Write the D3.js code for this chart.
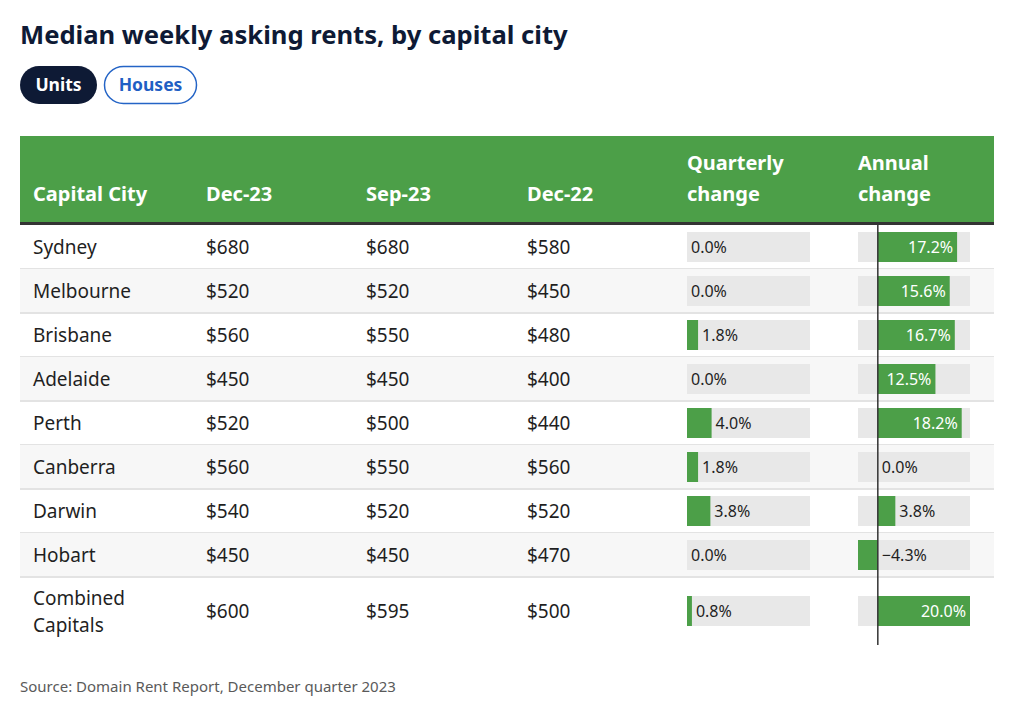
<!DOCTYPE html>
<html><head><meta charset="utf-8">
<script src="https://cdn.jsdelivr.net/npm/d3@7"></script>
<style>
html,body{margin:0;padding:0;background:#fff;}
svg{display:block;font-family:"Noto Sans",sans-serif;}
</style></head>
<body><svg id="c" width="1024" height="704"></svg>
<script>
const title = "Median weekly asking rents, by capital city";
const toggles = ["Units", "Houses"];
const headers = ["Capital City", "Dec-23", "Sep-23", "Dec-22", "Quarterly change", "Annual change"];
const cities = ["Sydney", "Melbourne", "Brisbane", "Adelaide", "Perth", "Canberra", "Darwin", "Hobart", "Combined Capitals"];
const dec23 = [680, 520, 560, 450, 520, 560, 540, 450, 600];
const sep23 = [680, 520, 550, 450, 500, 550, 520, 450, 595];
const dec22 = [580, 450, 480, 400, 440, 560, 520, 470, 500];
const quarterly = [0.0, 0.0, 1.8, 0.0, 4.0, 1.8, 3.8, 0.0, 0.8];
const annual = [17.2, 15.6, 16.7, 12.5, 18.2, 0.0, 3.8, -4.3, 20.0];
const source = "Source: Domain Rent Report, December quarter 2023";

const svg = d3.select("#c");
const green = "#4c9f48", navy = "#0e1a35", txt = "#1f1f1f";

svg.append("text").attr("x", 20).attr("y", 44).attr("font-size", 25.6).attr("font-weight", 700)
  .attr("fill", navy).text(title);

// toggles
const tg = [{x:20,w:77},{x:104.5,w:92}];
toggles.forEach((t,i)=>{
  const on = i===0;
  svg.append("rect").attr("x", tg[i].x).attr("y", on?66:66.5).attr("width", tg[i].w).attr("height", on?38:37)
    .attr("rx", 19).attr("fill", on?navy:"#fff").attr("stroke", on?"none":"#2464c6").attr("stroke-width",1.5);
  svg.append("text").attr("x", tg[i].x+tg[i].w/2).attr("y", 91).attr("text-anchor","middle")
    .attr("font-size", 17.5).attr("font-weight", 700).attr("fill", on?"#fff":"#1f5fc4").text(t);
});

// header
svg.append("rect").attr("x",20).attr("y",136).attr("width",974).attr("height",87).attr("fill",green);
svg.append("rect").attr("x",20).attr("y",222).attr("width",974).attr("height",3).attr("fill","#333");
const colX = [33, 206, 366, 527, 687, 858];
headers.forEach((h,i)=>{
  const words = h.split(" ");
  const lines = i>=4 ? [words[0], words[1]] : [h];
  const t = svg.append("text").attr("font-size",20).attr("font-weight",700).attr("fill","#fff");
  lines.forEach((l,j)=>{
    t.append("tspan").attr("x",colX[i]).attr("y", lines.length===1?201:170+31*j).text(l);
  });
});

// rows
const rowTop = 225, rowH = 44, lastH = 68;
const rowY = i => rowTop + i*rowH;
const rowHeight = i => i===cities.length-1 ? lastH : rowH;

const xQ = d3.scaleLinear().domain([0, d3.max(annual)]).range([687, 810]);
const xA = d3.scaleLinear().domain([d3.min(annual), d3.max(annual)]).range([858, 970]);

cities.forEach((c,i)=>{
  const y0 = rowY(i), h = rowHeight(i), cy = y0 + h/2;
  if (i%2===1) svg.append("rect").attr("x",20).attr("y",y0).attr("width",974).attr("height",h).attr("fill","#f7f7f7");
  if (i < cities.length-1) svg.append("rect").attr("x",20).attr("y",y0+h-1).attr("width",974).attr("height",2).attr("fill","#e3e3e3");
  const ct = svg.append("text").attr("font-size",19).attr("fill",txt);
  const parts = c==="Combined Capitals" ? ["Combined","Capitals"] : [c];
  parts.forEach((p,j)=>{
    ct.append("tspan").attr("x",colX[0]).attr("y", cy + 7 + (parts.length===1?0:(j===0?-13.5:13.5))).text(p);
  });
  [dec23, sep23, dec22].forEach((arr,k)=>{
    svg.append("text").attr("x",colX[k+1]).attr("y",cy+7).attr("font-size",19).attr("fill",txt).text("$"+arr[i]);
  });
  // bars
  const bh = 30, by = cy - bh/2;
  const drawBar = (scale, v, bgx0, bgx1) => {
    svg.append("rect").attr("x",bgx0).attr("y",by).attr("width",bgx1-bgx0).attr("height",bh).attr("fill","#e8e8e8");
    const z = scale(0), xv = scale(v);
    const x0 = Math.min(z,xv), w = Math.abs(xv-z);
    if (w>0) svg.append("rect").attr("x",x0).attr("y",by).attr("width",w).attr("height",bh).attr("fill",green);
    const label = (v<0?"\u2212":"") + Math.abs(v).toFixed(1) + "%";
    const t = svg.append("text").attr("y",cy+6).attr("font-size",16).text(label);
    const tw = t.node().getComputedTextLength();
    if (v>0 && w > tw + 10) {
      t.attr("x", xv-4).attr("text-anchor","end").attr("fill","#fff");
    } else {
      t.attr("x", (v>0?xv:z)+4).attr("fill",txt);
    }
  };
  drawBar(xQ, quarterly[i], 687, 810);
  drawBar(xA, annual[i], 858, 970);
});

// zero line
svg.append("line").attr("x1",xA(0)).attr("x2",xA(0)).attr("y1",225).attr("y2",645)
  .attr("stroke","#333").attr("stroke-width",1.5);

svg.append("text").attr("x",20).attr("y",692).attr("font-size",15).attr("fill","#5a5a5a").text(source);
</script></body></html>
